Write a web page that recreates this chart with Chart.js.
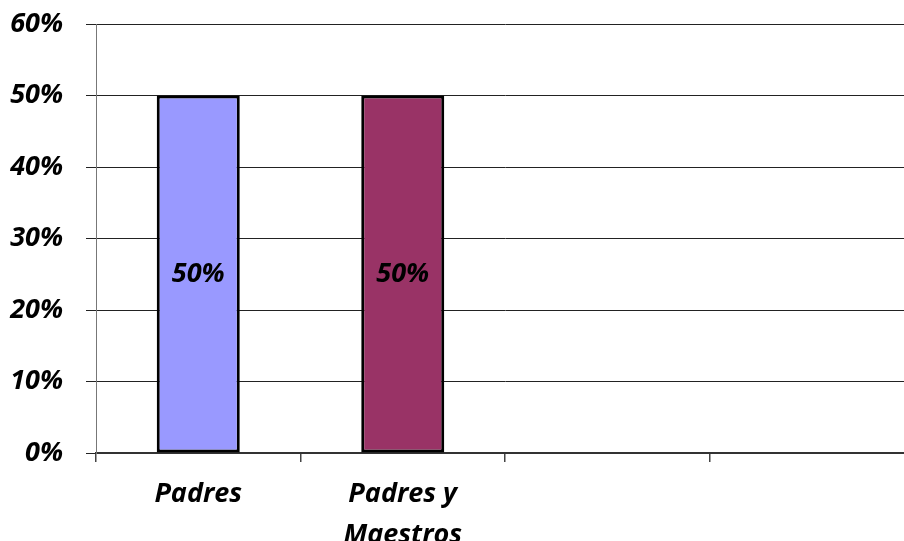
<!DOCTYPE html>
<html>
<head>
<meta charset="utf-8">
<script src="https://cdn.jsdelivr.net/npm/chart.js@4/dist/chart.umd.min.js"></script>
<style>
  html, body { margin: 0; padding: 0; background: #fff; overflow: hidden; }
  #wrap { width: 920px; height: 541px; }
</style>
</head>
<body>
<div id="wrap"><canvas id="grafico" width="920" height="541"></canvas></div>
<script>
// categorias y valores del grafico
const categorias = ['Padres', ['Padres y', 'Maestros'], '', ''];
const valores = [50, 50, null, null];
const colores = ['#9999FF', '#993366', '#9999FF', '#993366'];
const yMax = 60;
const yPaso = 10;

const fuente = { family: '"Open Sans", sans-serif', size: 27, weight: 'bold', style: 'italic' };

// etiqueta "50%" en medio de cada barra
const etiquetasBarras = {
    id: 'etiquetasBarras',
    afterDatasetsDraw(chart) {
        const ctx = chart.ctx;
        const meta = chart.getDatasetMeta(0);
        ctx.save();
        ctx.font = 'italic bold 27px "Open Sans", sans-serif';
        ctx.fillStyle = '#000';
        ctx.textAlign = 'center';
        ctx.textBaseline = 'middle';
        meta.data.forEach((bar, i) => {
            if (valores[i] == null) return;
            ctx.fillText(valores[i] + '%', bar.x, (bar.y + bar.base) / 2);
        });
        ctx.restore();
    }
};

new Chart(document.getElementById('grafico').getContext('2d'), {
    type: 'bar',
    data: {
        labels: categorias,
        datasets: [{
            data: valores,
            backgroundColor: colores,
            borderColor: '#000',
            borderWidth: 3,
            borderSkipped: false,
            categoryPercentage: 1,
            barPercentage: 0.406
        }]
    },
    options: {
        responsive: false,
        animation: false,
        layout: { padding: { top: 24, right: 6, left: 0, bottom: 0 } },
        plugins: {
            legend: { display: false },
            tooltip: { enabled: false }
        },
        scales: {
            x: {
                // alto fijo: la segunda linea queda cortada como en el original
                afterFit: (scale) => { scale.height = 88; scale.paddingTop = 0; scale.paddingBottom = 0; scale.paddingRight = 0; },
                grid: { display: true, drawOnChartArea: false, offset: true, tickLength: 9, color: '#444', lineWidth: 1.5 },
                border: { display: true, color: '#333', width: 2 },
                ticks: { color: '#000', font: { ...fuente, lineHeight: 1.55 }, padding: 11, maxRotation: 0, autoSkip: false }
            },
            y: {
                min: 0,
                max: yMax,
                afterFit: (scale) => { scale.width = 96; scale.paddingTop = 0; scale.paddingBottom = 0; },
                grid: { color: '#222', tickLength: 10, lineWidth: 1 },
                border: { display: true, color: '#777', width: 1 },
                ticks: { stepSize: yPaso, color: '#000', font: fuente, padding: 23, callback: (v) => v + '%' }
            }
        }
    },
    plugins: [etiquetasBarras]
});
</script>
</body>
</html>
